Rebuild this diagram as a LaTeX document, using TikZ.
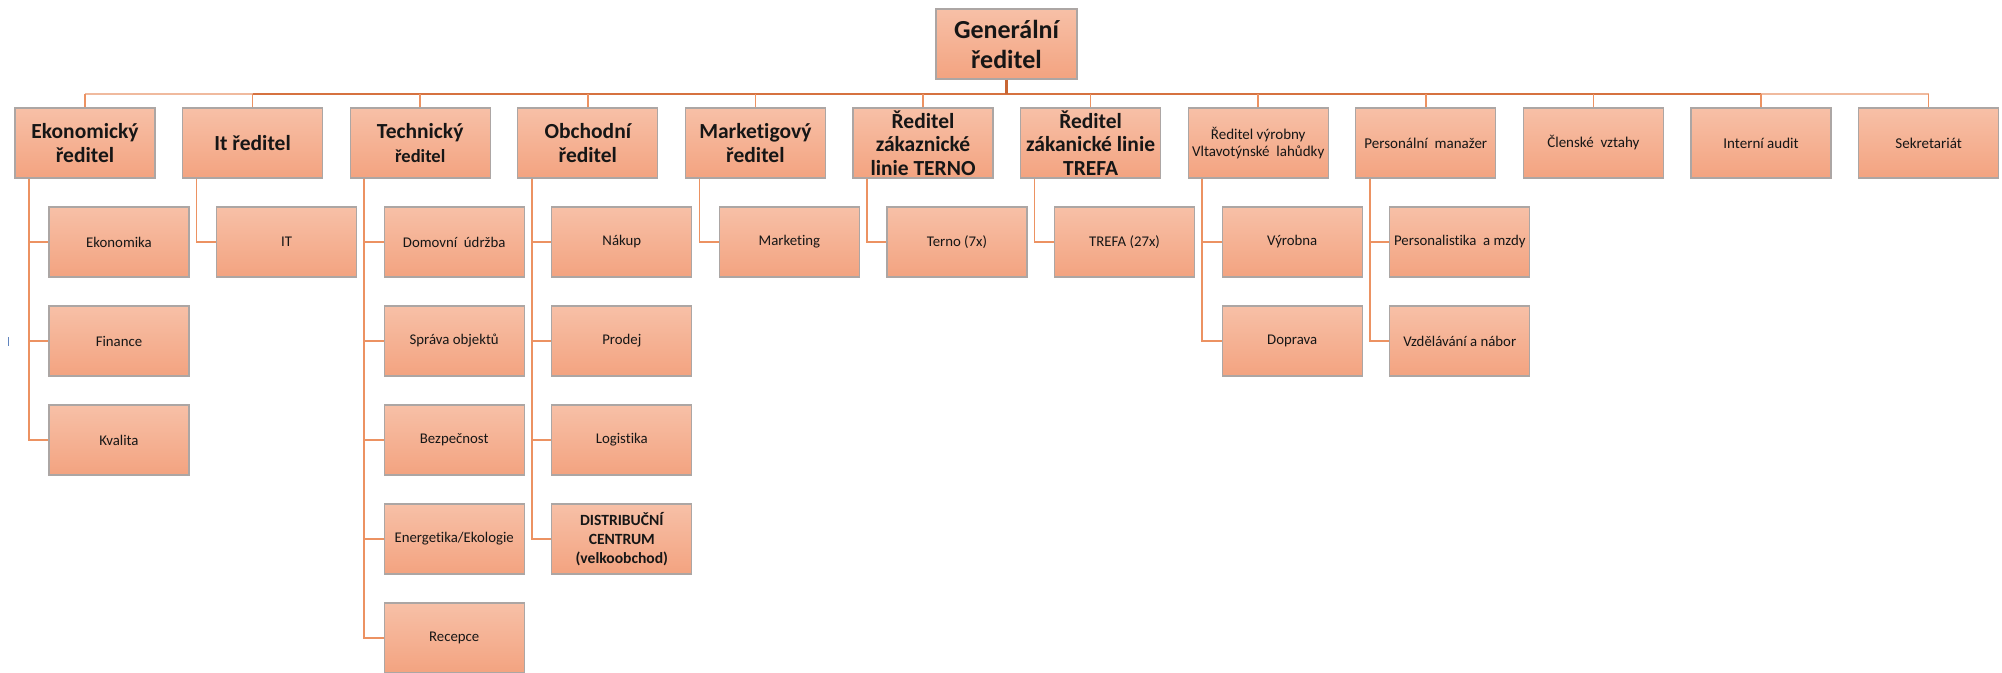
\documentclass[tikz,border=0pt]{standalone}
\usepackage{fontspec}
\setmainfont{Carlito}[Ligatures={NoCommon}]

\definecolor{boxtop}{RGB}{247,192,167}
\definecolor{boxbot}{RGB}{243,163,128}
\definecolor{boxedge}{RGB}{172,166,164}
\definecolor{linkc}{RGB}{236,146,98}
\definecolor{busc}{RGB}{214,114,64}
\definecolor{buslight}{RGB}{240,186,158}
\definecolor{stemc}{RGB}{200,102,52}
\definecolor{inkc}{RGB}{22,22,22}
\definecolor{cursorc}{RGB}{96,132,190}

\tikzset{
  orgbox/.style={draw=boxedge, line width=1.1pt, top color=boxtop, bottom color=boxbot,
    minimum width=140pt, minimum height=70pt, inner sep=2pt, align=center, text=inkc},
  topbox/.style={orgbox, minimum width=141pt, font=\fontsize{26}{30}\selectfont\bfseries},
  headbf/.style={orgbox, font=\fontsize{21.5}{23.6}\selectfont\bfseries},
  headrm/.style={orgbox, font=\fontsize{15}{16.7}\selectfont},
  unit/.style={orgbox, font=\fontsize{14.8}{17}\selectfont},
  unitbf/.style={orgbox, font=\fontsize{15.6}{19}\selectfont\bfseries},
  link/.style={draw=linkc, line width=1.6pt},
  bus/.style={draw=busc, line width=2.2pt},
  buspale/.style={draw=buslight, line width=2.2pt},
  stem/.style={draw=stemc, line width=3.5pt},
}

\begin{document}
\begin{tikzpicture}[x=1pt, y=-1pt]
\useasboundingbox (0,0) rectangle (2002,672);

% top of the hierarchy
\node[topbox] (gen) at (1006.5,44) {Generální\\ředitel};

% second level: directors and staff units
\node[headbf] (eko) at (85,143)     {Ekonomický\\ředitel};
\node[headbf] (itr) at (252.6,143)  {It ředitel};
\node[headbf] (tec) at (420.2,143)  {Technický\\{\fontsize{18.5}{23.6}\selectfont ředitel}};
\node[headbf] (obc) at (587.8,143)  {Obchodní\\ředitel};
\node[headbf] (mkt) at (755.4,143)  {Marketigový\\ředitel};
\node[headbf] (ter) at (923,143)    {Ředitel\\zákaznické\\linie TERNO};
\node[headbf] (tre) at (1090.6,143) {Ředitel\\zákanické linie\\TREFA};
\node[headrm] (vyr) at (1258.2,143) {Ředitel výrobny\\Vltavotýnské~ lahůdky};
\node[headrm] (per) at (1425.8,143) {Personální~ manažer};
\node[headrm] (cle) at (1593.4,143) {Členské~ vztahy};
\node[headrm] (aud) at (1761,143)   {Interní audit};
\node[headrm] (sek) at (1928.6,143) {Sekretariát};

% third level: departments
\node[unit] (eko1) at (119,242) {Ekonomika};
\node[unit] (eko2) at (119,341) {Finance};
\node[unit] (eko3) at (119,440) {Kvalita};

\node[unit] (itr1) at (286.6,242) {IT};

\node[unit] (tec1) at (454.2,242) {Domovní~ údržba};
\node[unit] (tec2) at (454.2,341) {Správa objektů};
\node[unit] (tec3) at (454.2,440) {Bezpečnost};
\node[unit] (tec4) at (454.2,539) {Energetika/Ekologie};
\node[unit] (tec5) at (454.2,638) {Recepce};

\node[unit] (obc1) at (621.8,242) {Nákup};
\node[unit] (obc2) at (621.8,341) {Prodej};
\node[unit] (obc3) at (621.8,440) {Logistika};
\node[unitbf] (obc4) at (621.8,539) {DISTRIBUČNÍ\\CENTRUM\\(velkoobchod)};

\node[unit] (mkt1) at (789.4,242) {Marketing};
\node[unit] (ter1) at (957,242) {Terno (7x)};
\node[unit] (tre1) at (1124.6,242) {TREFA (27x)};

\node[unit] (vyr1) at (1292.2,242) {Výrobna};
\node[unit] (vyr2) at (1292.2,341) {Doprava};

\node[unit] (per1) at (1459.8,242) {Personalistika~ a mzdy};
\node[unit] (per2) at (1459.8,341) {Vzdělávání a nábor};

% horizontal bus under the general director
\coordinate (busy) at (0,94);
\draw[buspale] (eko.north |- busy) -- (itr.north |- busy);
\draw[bus] (itr.north |- busy) -- (aud.north |- busy);
\draw[buspale] (aud.north |- busy) -- (sek.north |- busy);
\draw[stem] (gen.south) -- (gen.south |- busy);

% stubs down to each second-level box
\foreach \n in {eko,itr,tec,obc,mkt,ter,tre,vyr,per,cle,aud,sek}
  \draw[link] (\n.north) -- (\n.north |- busy);

% elbow connectors to the departments
\foreach \p/\c in {eko/eko1,eko/eko2,eko/eko3,itr/itr1,
    tec/tec1,tec/tec2,tec/tec3,tec/tec4,tec/tec5,
    obc/obc1,obc/obc2,obc/obc3,obc/obc4,
    mkt/mkt1,ter/ter1,tre/tre1,vyr/vyr1,vyr/vyr2,per/per1,per/per2}
  \draw[link] (\p.south west) ++(14.5,0) |- (\c.west);

% small text cursor mark at the left edge
\draw[draw=cursorc, line width=1pt] (8,337) -- (8,346);
\end{tikzpicture}
\end{document}
